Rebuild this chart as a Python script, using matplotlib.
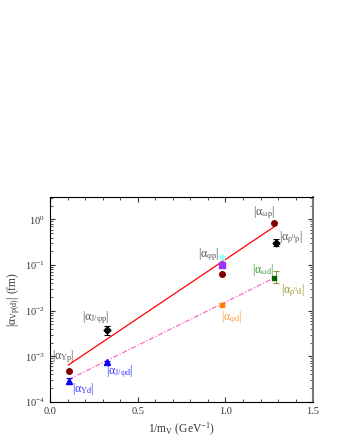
import matplotlib
matplotlib.use("Agg")
import matplotlib.pyplot as plt
from matplotlib.ticker import MultipleLocator, LogLocator, NullFormatter
import numpy as np

plt.rcParams['font.family'] = ['Liberation Serif', 'DejaVu Serif']
plt.rcParams['mathtext.fontset'] = 'custom'
plt.rcParams['mathtext.rm'] = 'Liberation Serif'
plt.rcParams['mathtext.it'] = 'Liberation Serif:italic'

# x positions: 1/m_V (GeV^-1)
x_ups, x_jpsi, x_phi, x_omega, x_rho = 0.1057, 0.323, 0.981, 1.278, 1.29

# proton data
ups_p = 4.7e-4
jpsi_p, jpsi_p_lo, jpsi_p_hi = 3.8e-3, 3.0e-3, 4.7e-3
phi_p_sq = 0.10
phi_p_star = 0.15
phi_p_circ = 0.063
omega_p = 0.82
rho_p, rho_p_lo, rho_p_hi = 0.31, 0.26, 0.37

# deuteron data
ups_d, ups_d_lo, ups_d_hi = 2.9e-4, 2.5e-4, 3.3e-4
jpsi_d, jpsi_d_lo, jpsi_d_hi = 7.4e-4, 6.8e-4, 8.0e-4
phi_d, phi_d_lo, phi_d_hi = 0.0135, 0.0125, 0.0150
omega_d = 0.052
rho_d, rho_d_lo, rho_d_hi = 0.055, 0.040, 0.074

# fit lines (endpoints)
line_p_x = [0.1057, 1.278]
line_p_y = [6.5e-4, 0.69]
line_d_x = [0.1057, 1.29]
line_d_y = [3.1e-4, 0.055]

fig = plt.figure(figsize=(3.4, 4.4), dpi=100)
ax = fig.add_axes([0.147, 0.0864, 0.774, 0.466])
ax.set_yscale('log')

ax.plot(line_p_x, line_p_y, color='red', lw=0.9)
ax.plot(line_d_x, line_d_y, color='#ff66cc', lw=0.9, ls=(0, (4, 1.5, 1, 1.5)))

def eb(x, y, lo, hi, color, marker, ms):
    ax.errorbar([x], [y], yerr=[[y - lo], [hi - y]], fmt=marker, color=color,
                ms=ms, capsize=2, elinewidth=0.8, capthick=0.8, zorder=5)

ax.plot([x_ups], [ups_p], 'o', color='#800000', ms=4, zorder=5)
eb(x_jpsi, jpsi_p, jpsi_p_lo, jpsi_p_hi, 'black', 'D', 3.5)
ax.plot([x_phi], [phi_p_star], '*', color='#99ffff', ms=5, zorder=5)
ax.plot([x_phi], [phi_p_sq], 's', color='#9933ff', ms=4, zorder=6)
ax.plot([x_phi], [phi_p_circ], 'o', color='#800000', ms=4, zorder=5)
ax.plot([x_omega], [omega_p], 'o', color='#800000', ms=4, zorder=5)
eb(x_rho, rho_p, rho_p_lo, rho_p_hi, 'black', 'D', 3.5)

eb(x_ups, ups_d, ups_d_lo, ups_d_hi, 'blue', '^', 4)
eb(x_jpsi, jpsi_d, jpsi_d_lo, jpsi_d_hi, 'blue', '^', 4)
eb(x_phi, phi_d, phi_d_lo, phi_d_hi, '#ff8000', 's', 3.5)
ax.plot([x_omega], [omega_d], 's', color='#006600', ms=3.5, zorder=6)
eb(x_rho, rho_d, rho_d_lo, rho_d_hi, '#999933', '', 0)

grey = '#555555'
fs = 8.5
ax.text(1.22, 1.38, r'$|\mathrm{α}_{\mathrm{ωp}}|$', color=grey, fontsize=fs, ha='center', va='center')
ax.text(1.305, 0.40, r'$|\mathrm{α}_{\mathrm{ρ^0p}}|$', color=grey, fontsize=fs, ha='left', va='center')
ax.text(0.905, 0.17, r'$|\mathrm{α}_{\mathrm{φp}}|$', color=grey, fontsize=fs, ha='center', va='center')
ax.text(1.215, 0.078, r'$|\mathrm{α}_{\mathrm{ωd}}|$', color='#339933', fontsize=fs, ha='center', va='center')
ax.text(1.315, 0.028, r'$|\mathrm{α}_{\mathrm{ρ^0d}}|$', color='#999933', fontsize=fs, ha='left', va='center')
ax.text(0.972, 0.0071, r'$|\mathrm{α}_{\mathrm{φd}}|$', color='#ff9933', fontsize=fs, ha='left', va='center')
ax.text(0.26, 0.0071, r'$|\mathrm{α}_{\mathrm{J/ψp}}|$', color=grey, fontsize=fs, ha='center', va='center')
ax.text(0.078, 1.0e-3, r'$|\mathrm{α}_{\mathrm{Υp}}|$', color=grey, fontsize=fs, ha='center', va='center')
ax.text(0.318, 4.7e-4, r'$|\mathrm{α}_{\mathrm{J/ψd}}|$', color='#3333ff', fontsize=fs, ha='left', va='center')
ax.text(0.125, 1.9e-4, r'$|\mathrm{α}_{\mathrm{Υd}}|$', color='#3333ff', fontsize=fs, ha='left', va='center')

ax.set_xlim(0, 1.5)
ax.set_ylim(1e-4, 3.1)
ax.xaxis.set_major_locator(MultipleLocator(0.5))
ax.xaxis.set_minor_locator(MultipleLocator(0.1))
ax.xaxis.set_major_formatter(matplotlib.ticker.FormatStrFormatter('%.1f'))
ax.yaxis.set_major_locator(LogLocator(base=10, numticks=10))
ax.yaxis.set_minor_locator(LogLocator(base=10, subs=np.arange(2, 10), numticks=10))
ax.yaxis.set_minor_formatter(NullFormatter())
ax.tick_params(which='both', direction='in', top=True, right=True, labelsize=7.5, colors='#333333')
ax.tick_params(which='major', length=3.5, width=0.8)
ax.tick_params(which='minor', length=2, width=0.6)
for s in ['left', 'bottom', 'top']:
    ax.spines[s].set_linewidth(0.8)
ax.spines['right'].set_linewidth(1.5)
ax.spines['right'].set_color('#777777')

ax.set_xlabel(r'1/m$_\mathrm{V}$ (GeV$^{\mathrm{-1}}$)', fontsize=8.3, color='#333333')
ax.set_ylabel(r'$|\mathrm{α}_{\mathrm{Vp(d)}}|$ (fm)', fontsize=8.3, color='#333333', labelpad=2)

fig.savefig('out.png', dpi=100)
